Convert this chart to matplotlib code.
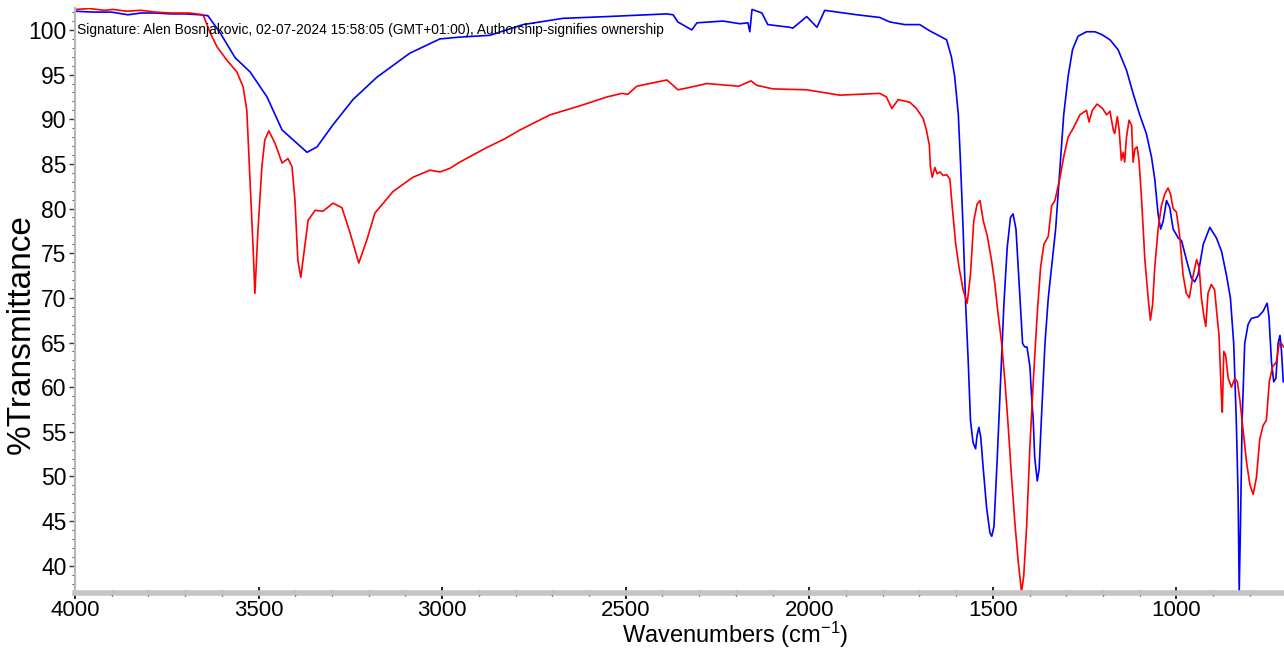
import matplotlib
matplotlib.use("Agg")
import matplotlib.pyplot as plt
from matplotlib.ticker import MultipleLocator

# ---- data: blue spectrum (wavenumber, %T) ----
blue_wn = [4000, 3950, 3900, 3856, 3820, 3780, 3740, 3700, 3660, 3638, 3605, 3564, 3523,
           3477, 3436, 3406, 3368, 3341, 3297, 3243, 3178, 3088, 3006, 2952, 2870,
           2780, 2671, 2551, 2388, 2371, 2358, 2320, 2306, 2235, 2189, 2167, 2162,
           2156, 2129, 2113, 2053, 2045, 2007, 1979, 1958, 1870, 1808, 1781, 1740,
           1699, 1672, 1644, 1626, 1613, 1604, 1594, 1588, 1581, 1574, 1567, 1561,
           1554, 1547, 1543, 1538, 1533, 1526, 1517, 1508, 1503, 1497, 1488, 1479,
           1470, 1461, 1452, 1445, 1437, 1431, 1425, 1419, 1413, 1407, 1399, 1395,
           1390, 1386, 1379, 1374, 1368, 1358, 1349, 1338, 1329, 1318, 1307, 1295,
           1283, 1268, 1245, 1222, 1204, 1181, 1159, 1136, 1118, 1100, 1082, 1068,
           1059, 1050, 1043, 1036, 1027, 1018, 1009, 995, 986, 973, 959, 950, 941,
           927, 909, 891, 877, 864, 853, 844, 837, 832, 829, 826, 821, 814, 805,
           796, 777, 764, 753, 748, 741, 735, 729, 723, 718, 714, 709]
blue_t = [102.1, 102.0, 102.0, 101.7, 101.9, 101.9, 101.8, 101.8, 101.7, 101.6, 99.7, 96.9, 95.3,
          92.5, 88.8, 87.7, 86.3, 86.9, 89.4, 92.2, 94.7, 97.4, 99.0, 99.2, 99.4,
          100.6, 101.3, 101.5, 101.8, 101.7, 100.9, 100.0, 100.8, 101.0, 100.7, 100.8, 99.8,
          102.3, 101.9, 100.6, 100.3, 100.2, 101.5, 100.3, 102.2, 101.7, 101.4, 100.9, 100.6,
          100.6, 99.9, 99.3, 98.9, 97.0, 94.8, 90.5, 85.0, 77.7, 69.2, 62.8, 56.3,
          53.8, 53.1, 54.6, 55.5, 54.4, 50.8, 46.5, 43.7, 43.3, 44.4, 52.1, 60.6,
          69.2, 75.6, 79.0, 79.4, 77.7, 73.4, 69.2, 64.9, 64.5, 64.5, 62.3, 59.3,
          56.3, 52.1, 49.5, 50.8, 56.3, 64.9, 70.0, 74.3, 77.7, 84.1, 90.5, 94.8,
          97.8, 99.3, 99.8, 99.8, 99.5, 98.9, 97.8, 95.5, 92.9, 90.5, 88.4, 85.8,
          83.3, 79.4, 77.7, 78.6, 80.9, 80.1, 77.7, 76.7, 76.4, 74.3, 72.2, 71.8, 72.6,
          76.0, 77.9, 76.7, 75.2, 72.6, 70.0, 64.9, 56.3, 47.8, 37.2, 43.5, 56.3, 64.9,
          67.0, 67.7, 67.9, 68.5, 69.4, 67.9, 62.8, 60.6, 61.0, 64.9, 65.8, 64.1, 60.6]

# ---- data: red spectrum (wavenumber, %T) ----
red_wn = [4000, 3960, 3920, 3897, 3860, 3820, 3780, 3740, 3710, 3687, 3651, 3632, 3613,
          3586, 3559, 3542, 3532, 3523, 3515, 3510, 3502, 3491, 3483, 3472, 3455,
          3436, 3420, 3409, 3401, 3393, 3385, 3379, 3365, 3346, 3325, 3297, 3273,
          3251, 3227, 3205, 3183, 3134, 3080, 3033, 3006, 2979, 2952, 2880, 2830,
          2788, 2706, 2625, 2551, 2510, 2494, 2470, 2388, 2371, 2358, 2333, 2279,
          2192, 2159, 2143, 2099, 2007, 1917, 1808, 1790, 1775, 1758, 1726, 1708,
          1690, 1681, 1673, 1670, 1665, 1658, 1652, 1644, 1635, 1626, 1617, 1610,
          1601, 1592, 1581, 1570, 1561, 1552, 1543, 1535, 1526, 1515, 1504, 1495,
          1486, 1476, 1467, 1458, 1449, 1440, 1431, 1422, 1416, 1408, 1399, 1390,
          1379, 1370, 1361, 1349, 1340, 1331, 1318, 1307, 1295, 1281, 1263, 1245,
          1238, 1229, 1216, 1201, 1190, 1181, 1172, 1168, 1161, 1156, 1150, 1145,
          1141, 1136, 1129, 1122, 1118, 1113, 1107, 1102, 1095, 1086, 1077, 1071,
          1065, 1059, 1050, 1041, 1032, 1023, 1016, 1009, 1000, 991, 982, 973, 965,
          956, 945, 938, 932, 925, 920, 914, 905, 896, 891, 884, 877, 875, 871, 866,
          859, 850, 841, 834, 827, 818, 809, 800, 791, 782, 773, 764, 755, 747, 738,
          728, 720, 714, 708]
red_t = [102.3, 102.4, 102.2, 102.3, 102.1, 102.2, 102.0, 101.9, 101.9, 101.9, 101.7, 99.7, 98.1,
         96.6, 95.3, 93.6, 91.0, 82.9, 75.7, 70.5, 77.3, 84.7, 87.7, 88.7, 87.3,
         85.1, 85.6, 84.7, 81.0, 74.2, 72.3, 74.2, 78.7, 79.8, 79.7, 80.6, 80.1,
         77.3, 73.9, 76.5, 79.5, 81.9, 83.5, 84.3, 84.1, 84.5, 85.2, 86.8, 87.8,
         88.8, 90.5, 91.5, 92.5, 92.9, 92.8, 93.7, 94.4, 93.8, 93.3, 93.5, 94.0,
         93.7, 94.3, 93.8, 93.4, 93.3, 92.7, 92.9, 92.5, 91.2, 92.2, 91.9, 91.2,
         90.1, 88.8, 87.1, 84.6, 83.5, 84.6, 83.9, 84.1, 83.7, 83.8, 83.3, 79.9,
         76.0, 73.4, 70.9, 69.4, 72.6, 78.6, 80.5, 80.9, 78.6, 76.9, 74.3, 71.7,
         68.3, 64.9, 60.6, 55.5, 49.9, 44.8, 40.5, 37.1, 38.8, 44.4, 53.4, 60.6,
         68.3, 73.4, 76.0, 76.9, 80.3, 80.9, 83.3, 85.8, 88.0, 89.0, 90.5, 91.0,
         89.7, 91.0, 91.7, 91.2, 90.5, 90.9, 88.8, 88.4, 90.3, 88.8, 85.4, 86.3,
         85.2, 88.0, 89.9, 89.3, 85.2, 86.7, 86.9, 85.4, 81.1, 74.3, 70.0, 67.5,
         69.2, 73.4, 77.7, 80.3, 81.6, 82.3, 81.6, 80.0, 79.6, 76.9, 72.6, 70.5, 70.0,
         72.2, 74.3, 73.4, 70.0, 67.9, 66.8, 70.5, 71.5, 70.9, 68.7, 65.8, 58.5, 57.2, 64.0, 63.6,
         61.0, 60.0, 61.0, 60.6, 58.5, 55.1, 51.6, 49.1, 48.0, 49.9, 54.2, 55.7, 56.3, 60.6, 62.3,
         62.8, 64.9, 64.9, 64.5]

x_ticks = [4000, 3500, 3000, 2500, 2000, 1500, 1000]
y_ticks = [40, 45, 50, 55, 60, 65, 70, 75, 80, 85, 90, 95, 100]
signature = "Signature: Alen Bosnjakovic, 02-07-2024 15:58:05 (GMT+01:00), Authorship-signifies ownership"

plt.rcParams['font.family'] = ['Liberation Sans', 'DejaVu Sans']
plt.rcParams['mathtext.fontset'] = 'custom'
plt.rcParams['mathtext.rm'] = 'Liberation Sans'
plt.rcParams['mathtext.it'] = 'Liberation Sans'

fig = plt.figure(figsize=(12.84, 6.5), dpi=100)
ax = fig.add_axes([75 / 1284, 57 / 650, 1 - 75 / 1284, (593 - 8) / 650])

ax.plot(blue_wn, blue_t, color='#0000ff', lw=1.2)
ax.plot(red_wn, red_t, color='#ff0000', lw=1.2)

ax.set_xlim(4000, 707)
ax.set_ylim(36.95, 102.46)

ax.set_xticks(x_ticks)
ax.set_xticklabels([str(v) for v in x_ticks])
ax.xaxis.set_minor_locator(MultipleLocator(100))
ax.set_yticks(y_ticks)
ax.set_yticklabels([str(v) for v in y_ticks])
ax.yaxis.set_minor_locator(MultipleLocator(1))

ax.tick_params(axis='x', which='major', direction='inout', length=8, width=1.2,
               pad=1, labelsize=16, color='black')
ax.tick_params(axis='x', which='minor', direction='inout', length=5, width=1, color='black')
ax.tick_params(axis='y', which='major', direction='out', length=4, width=1,
               pad=2, labelsize=16.5, color='#333333')
ax.tick_params(axis='y', which='minor', direction='out', length=2, width=0.8, color='#555555')

for s in ['top', 'right']:
    ax.spines[s].set_visible(False)
ax.spines['bottom'].set_color('#c4c4c4')
ax.spines['bottom'].set_linewidth(4)
ax.spines['left'].set_color('#b8b8b8')
ax.spines['left'].set_linewidth(1.5)

fig.text(735 / 1284, 0.5 / 650, r'Wavenumbers (cm$^{\mathregular{-1}}$)',
         fontsize=17, ha='center', va='bottom')
fig.text(21 / 1284, 1 - 334 / 650, '%Transmittance',
         fontsize=24, rotation=90, ha='center', va='center')

ax.text(4000 - 6, 100, signature, fontsize=9.9, va='center', ha='left', color='black')

fig.savefig('out.png', dpi=100)
